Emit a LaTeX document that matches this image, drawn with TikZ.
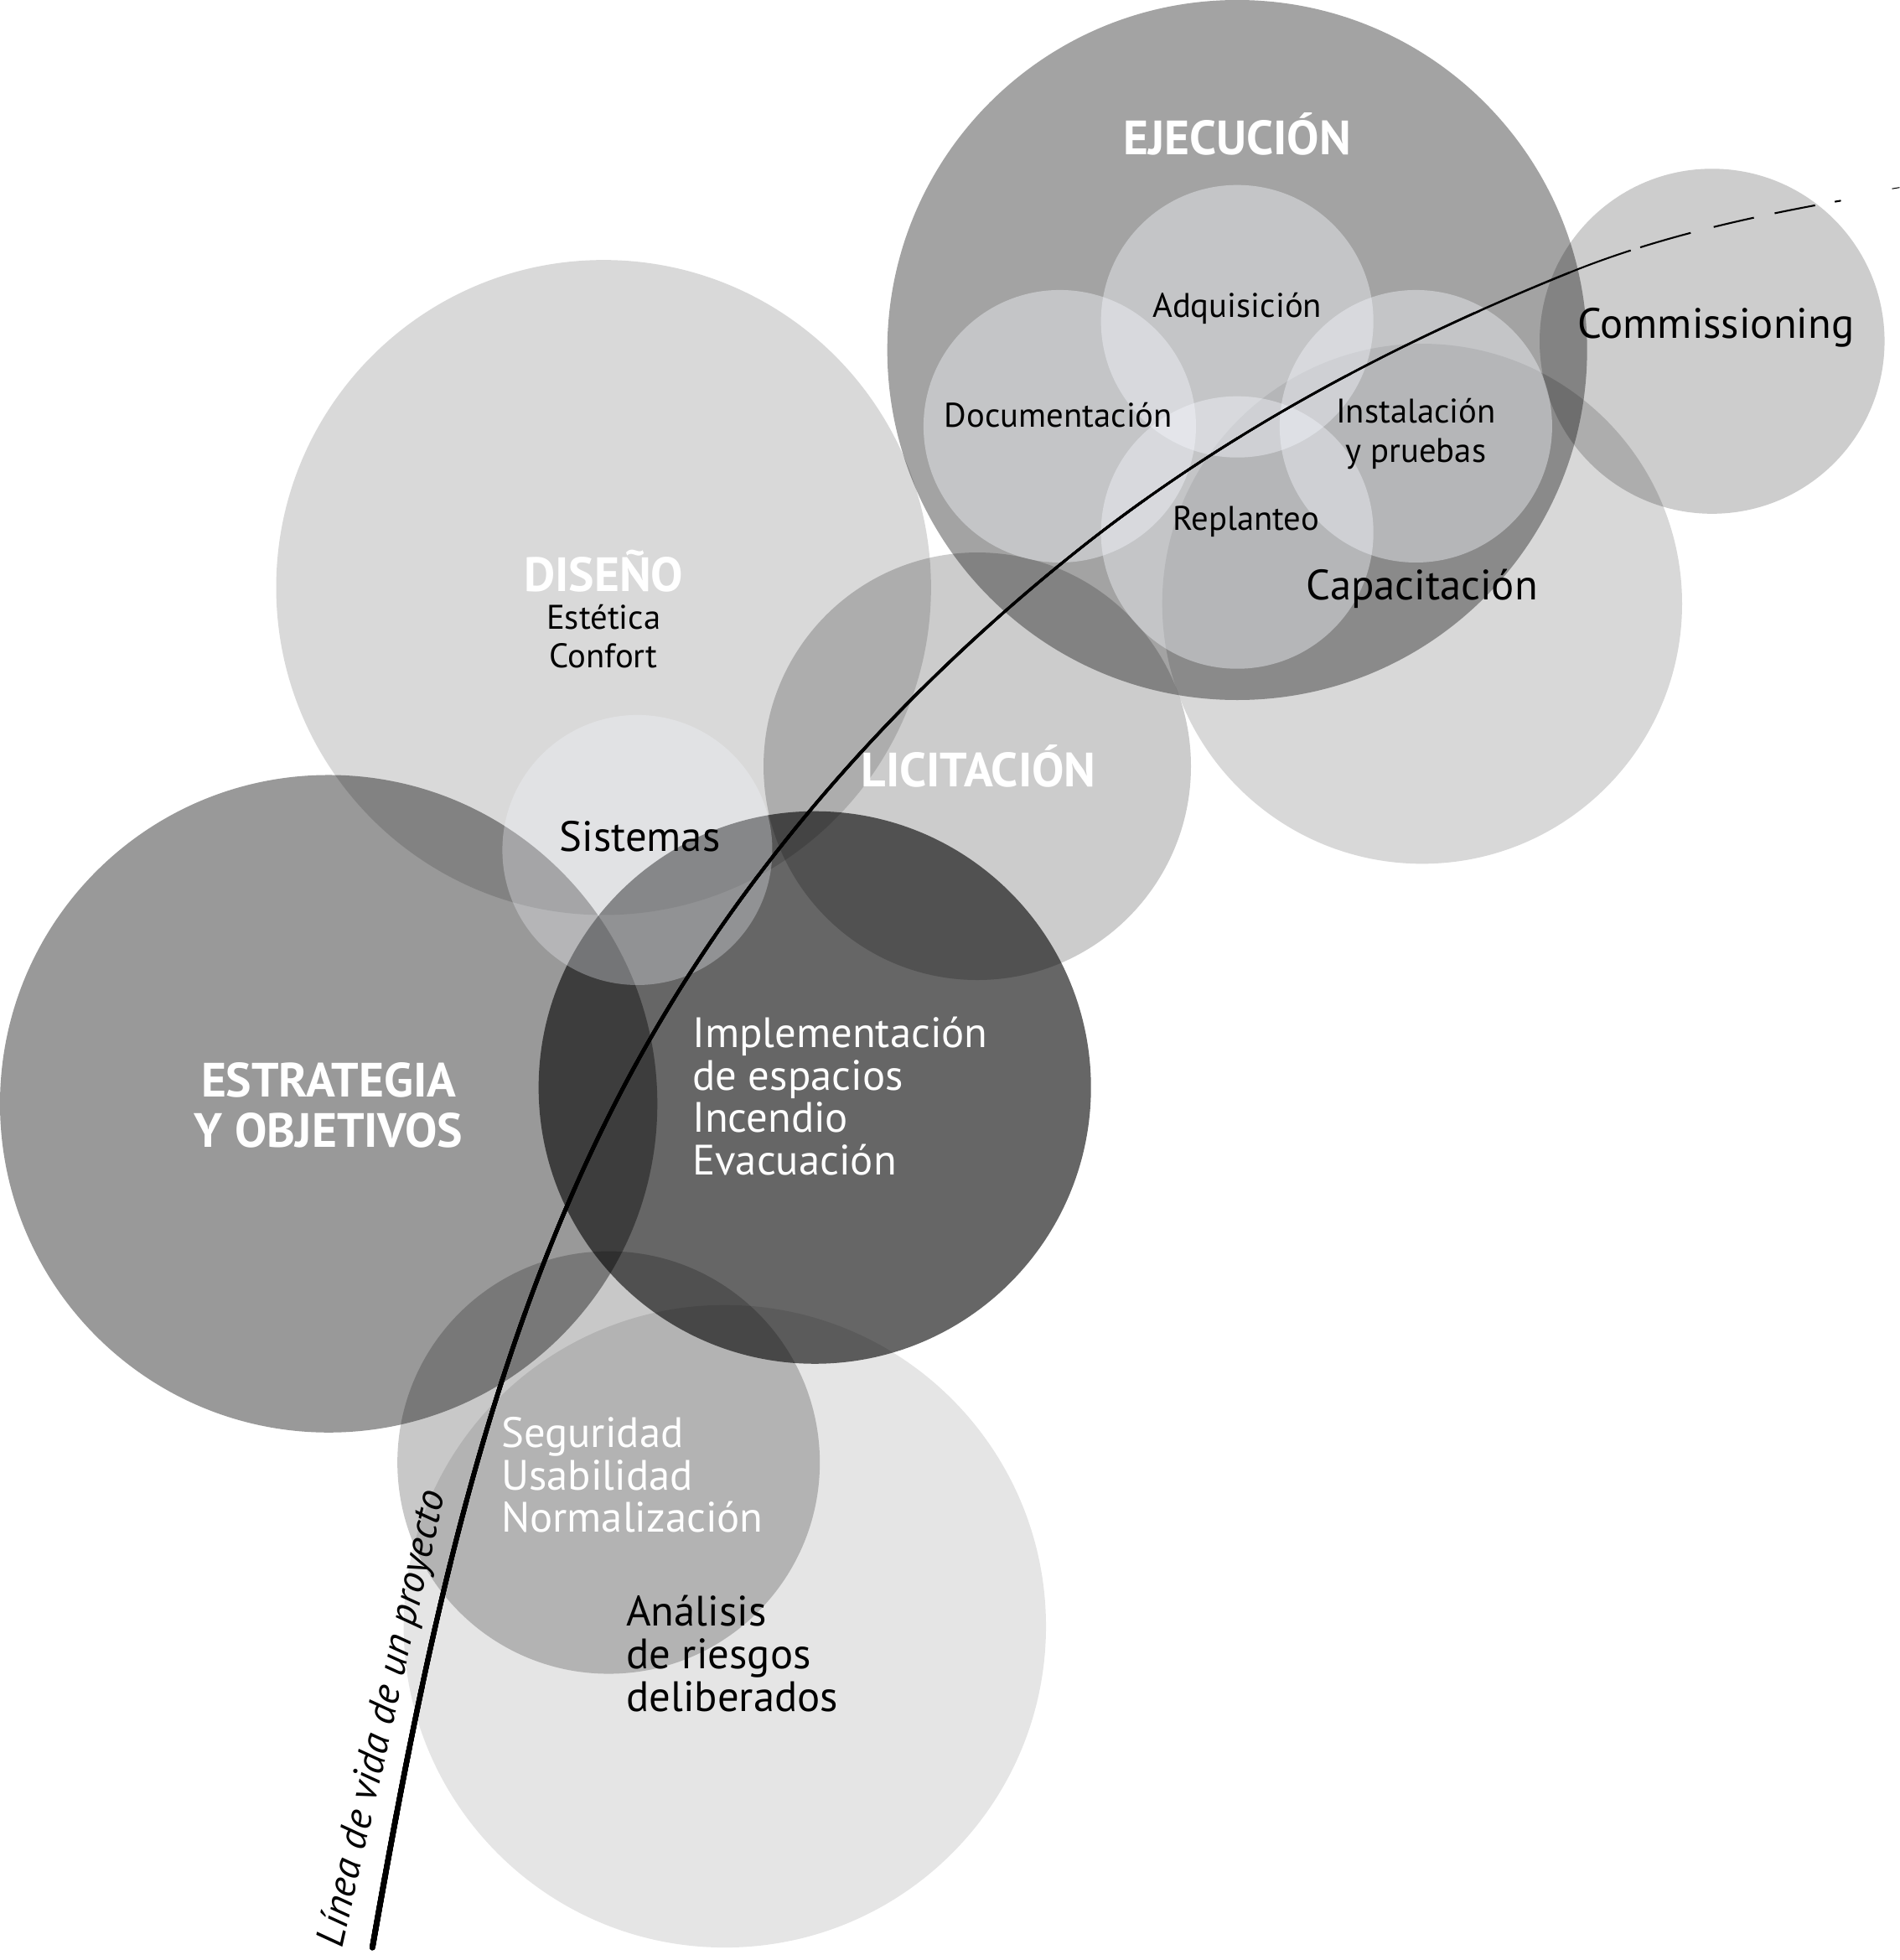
\documentclass[tikz,border=0pt]{standalone}
\usepackage{fontspec}
\setmainfont{PT Sans}
\definecolor{tintw}{RGB}{246,249,255}
\newcommand\fHead{\fontsize{38.5}{40}\selectfont\bfseries}
\newcommand\fBig{\fontsize{34}{34}\selectfont}
\newcommand\fSmall{\fontsize{27.3}{31}\selectfont}
\begin{document}
\begin{tikzpicture}[x=1pt,y=-1pt,
  mc/.style={fill=black,fill opacity=#1},
  wc/.style={fill=tintw,fill opacity=#1},
  lbl/.style={inner sep=0pt,text opacity=1},
  wh/.style={lbl,text=white},
  bk/.style={lbl,text=black}]
\useasboundingbox (0,0) rectangle (1520,1568);
\fill[white] (0,0) rectangle (1520,1568);
% grey circles (multiplying)
\fill[mc=0.149] (483,470) circle[radius=262pt];   % diseno
\fill[mc=0.40]  (263,883) circle[radius=263pt];   % estrategia
\fill[mc=0.60]  (652,870) circle[radius=221pt];   % implementacion
\fill[mc=0.20]  (782,613) circle[radius=171pt];   % licitacion
\fill[mc=0.216] (487,1170) circle[radius=169pt];  % seguridad
\fill[mc=0.102] (580,1301) circle[radius=257pt];  % analisis
\fill[mc=0.36]  (990,280) circle[radius=280pt];   % ejecucion
\fill[mc=0.153] (1138,483) circle[radius=208pt];  % capacitacion
\fill[mc=0.196] (1370,273) circle[radius=138pt];  % commissioning
% light overlays
\fill[wc=0.30] (510,680) circle[radius=108pt];    % sistemas
\fill[wc=0.40] (990,257) circle[radius=109pt];    % adquisicion
\fill[wc=0.40] (848,341) circle[radius=109pt];    % documentacion
\fill[wc=0.40] (1133,341) circle[radius=109pt];   % instalacion
\fill[wc=0.40] (990,426) circle[radius=109pt];    % replanteo
% life line, tapering from bottom to top
\coordinate (l0) at (298,1558);
\coordinate (l1) at (522,828);
\coordinate (l2) at (864,439);
\coordinate (l3) at (1256,218);
\coordinate (l4) at (1476,160);
\def\lifepath{(l0) .. controls (342,1307) and (394,1049) .. (l1) .. controls (608.5,678.2) and (728.5,546.8) .. (l2) .. controls (981.5,345.6) and (1117,274) .. (l3)}
\foreach \k in {0,...,26}{
  \begin{scope}
    \clip (0,{200+\k*50}) rectangle (1520,1570);
    \draw[line width={1.7pt+\k*0.11pt},line cap=round] \lifepath;
  \end{scope}}
\draw[line width=1.4pt,dash pattern=on 52pt off 8pt on 42pt off 19pt on 33pt off 17pt on 33pt off 16pt on 5pt]
  (l3) .. controls (1325.5,189.9) and (1402,173) .. (l4);
\coordinate (l5) at (1514,151);
\coordinate (l6) at (1520,150);
\draw[line width=0.7pt] (l5) -- (l6);
% labels
\node[wh,font=\fHead] (ejec) at (990,107) {EJECUCIÓN};
\node[bk,font=\fSmall] (adq) at (990,247) {Adquisición};
\node[bk,font=\fSmall] (doc) at (847,332) {Documentación};
\node[bk,font=\fSmall,align=center] (inst) at (1133,347) {Instalación\\y pruebas};
\node[bk,font=\fSmall] (repl) at (997,417) {Replanteo};
\node[bk,font=\fBig] (capa) at (1138,471) {Capacitación};
\node[bk,font=\fBig] (comm) at (1373,262) {Commissioning};
\node[wh,font=\fHead] (dis) at (483,457) {DISEÑO};
\node[bk,font=\fSmall,align=center] (dis2) at (483,509) {Estética\\Confort};
\node[wh,font=\fHead] (lic) at (783,613) {LICITACIÓN};
\node[bk,font=\fBig] (sist) at (512,669) {Sistemas};
\node[wh,font=\fHead,align=center] (estr) at (263,884) {ESTRATEGIA\\Y OBJETIVOS};
\node[wh,font=\fBig,align=left,anchor=west] (impl) at (554,877) {Implementación\\de espacios\\Incendio\\Evacuación};
\node[wh,font=\fBig,align=left,anchor=west] (seg) at (401,1180) {Seguridad\\Usabilidad\\Normalización};
\node[bk,font=\fBig,align=left,anchor=west] (anal) at (501,1323) {Análisis\\de riesgos\\deliberados};
\node[bk,font=\fontsize{32}{34}\selectfont\itshape,rotate=77.3] (vida) at (307,1375) {Línea de vida de un proyecto};
\end{tikzpicture}
\end{document}
